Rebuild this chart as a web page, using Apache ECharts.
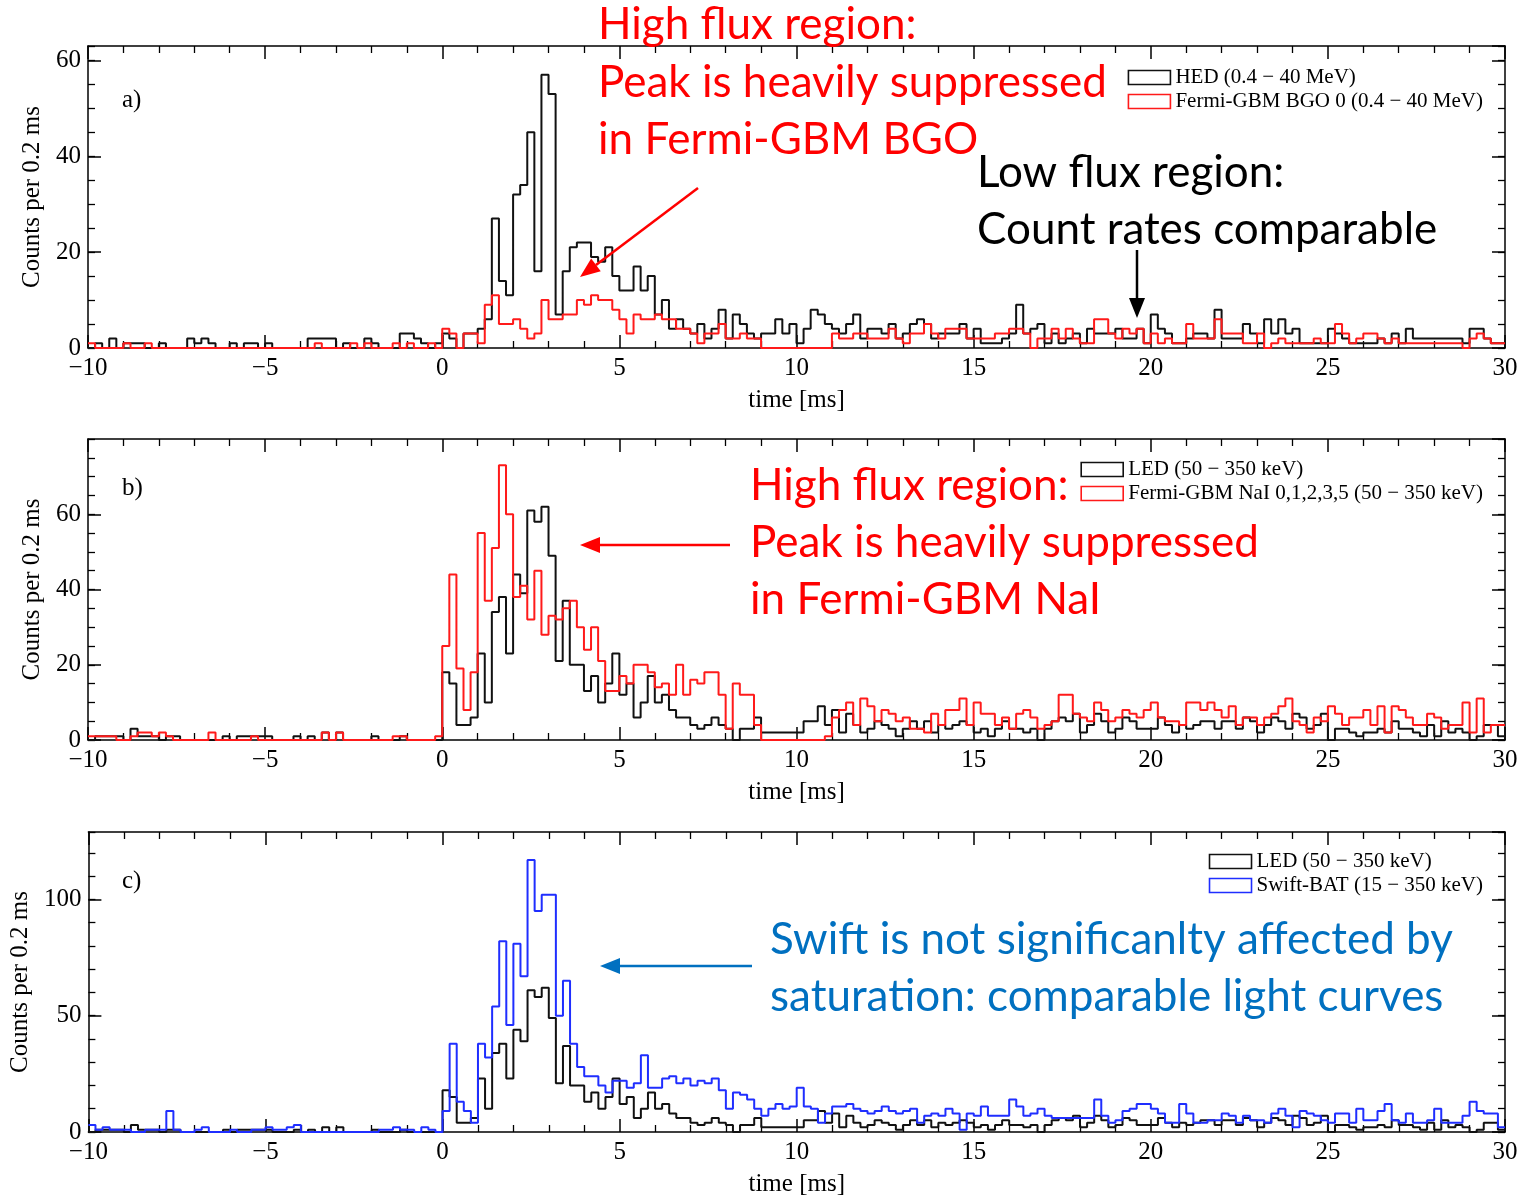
<!DOCTYPE html>
<html><head><meta charset="utf-8">
<script src="https://cdn.jsdelivr.net/npm/echarts@6/dist/echarts.min.js"></script>
<style>html,body{margin:0;padding:0;background:#fff}#c{width:1528px;height:1198px}</style>
</head><body><div id="c"></div>
<script>
// ---- data: counts per 0.2 ms bin, from -10 ms to 30 ms (200 bins) ----
const T0 = -10, BIN = 0.2;
const hedA = [0,1,0,2,0,1,1,1,0,0, 1,0,0,0,2,1,2,1,0,0, 1,0,1,1,0,1,0,0,0,0, 0,2,2,2,2,0,1,0,0,2, 1,0,0,0,3,3,2,1,0,1,
  3,2,0,3,3,4,6,27,14,11, 32,34,45,16,57,53,7,16,21,22, 22,19,18,21,15,12,12,17,12,15, 7,10,4,6,4,3,5,2,4,8,
  2,7,5,3,2,3,3,6,3,5, 1,4,8,7,5,4,3,5,7,2, 4,4,3,5,2,3,5,6,5,2, 3,3,3,5,2,4,1,1,1,2, 3,9,3,4,5,1,3,1,2,3, 1,4,3,3,3,
  4,2,2,4,1, 7,4,3,1,1, 2,3,3,2,8, 2,2,2,5,3, 1,6,3,6,3, 4,1,1,1,1, 4,3,2,1,1, 1,1,2,1,3, 1,4,2,2,2, 2,2,2,2,1, 4,4,2,1,1];
const bgoA = [1,0,0,0,0,1,0,0,1,0, 0,0,0,0,0,0,0,0,0,0, 0,0,0,0,0,0,0,0,0,0, 0,0,1,0,0,0,0,1,0,1, 0,0,0,1,0,1,0,0,1,0,
  4,3,0,3,3,1,9,11,5,5, 6,4,2,3,10,6,6,7,7,10, 9,11,10,10,8,6,3,7,6,6, 7,6,6,4,4,3,1,3,3,5,
  2,2,3,2,2, 0,0,0,0,0, 0,0,0,0,0,
  3,2,2,3,3, 2,2,2,4,2, 1,3,3,5,3, 2,4,4,4,2, 2,2,2,3,3, 4,4,3,0,2, 2,4,2,4,2, 1,1,6,6,3,
  2,4,3,4,1, 3,1,2,1,1, 5,2,2,2,6, 3,3,3,1,1, 3,0,1,2,1, 1,1,1,2,1, 1,5,3,1,2, 3,3,2,1,2, 1,1,1,1,1, 1,1,1,1,0, 2,3,2,1,1];
const led = [0,1,1,1,1,0,3,1,1,1, 0,1,1,0,0,0,0,0,0,1, 0,1,1,1,1,1,0,0,0,1, 0,1,0,2,0,2,0,0,0,0, 1,0,0,0,1,0,0,0,0,0,
  18,15,4,4,6,23,10,34,38,23, 44,39,61,58,62,49,21,37,20,20, 13,17,10,15,23,12,15,6,10,17, 10,12,8,6,6,4,3,4,6,4, 3,0,3,3,6,
  2,2,2,2,2, 2,5,5,9,4, 8,2,7,4,2, 3,5,4,3,1, 3,5,3,5,2, 4,3,4,5,4, 2,3,1,3,5, 3,3,2,3,0, 3,5,6,5,7, 2,4,7,5,2, 3,
  6,5,3,3,3, 6,4,2,4,3, 4,5,5,3,5, 5,3,6,5,2, 4,6,5,3,7, 6,3,4,7,0, 3,3,2,1,2, 2,3,2,5,3, 3,2,1,4,1, 5,2,3,2,0, 1,4,4,1];
const naiB = [1,1,1,1,0,0,1,2,2,1, 2,1,0,0,0,0,0,2,0,0, 0,0,0,1,0,0,0,0,0,0, 0,0,0,2,0,2,0,0,0,0, 0,0,0,1,1,0,0,0,0,1,
  25,44,19,8,18,55,37,51,73,60, 38,41,32,45,28,33,32,35,37,30, 24,30,21,13,13,17,15,20,20,18, 14,15,12,20,12,16,15,18,18,12, 3,15,12,12,4,
  0,0,0,0,0, 0,0,0,0,1, 6,8,10,4,11, 9,5,8,7,5, 6,3,3,2,7, 4,8,8,11,4, 10,7,7,4,6, 3,7,8,6,3, 4,5,12,12,7, 6,5,10,8,5, 6,
  8,7,6,8,10, 6,5,5,4,10, 10,8,10,8,6, 9,4,6,6,4, 6,7,9,11,5, 4,2,6,5,9, 7,4,6,6,8, 4,9,2,9,8, 6,4,4,7,6, 3,4,4,10,2, 11,2,4,4];
const batC = [3,1,2,1,1,1,0,0,1,1, 1,9,1,0,0,1,2,0,0,0, 1,0,0,1,1,2,1,1,2,3, 0,0,0,0,0,0,0,0,0,0, 0,1,1,2,1,1,0,2,1,0,
  9,38,13,9,4,38,32,54,82,46, 81,67,117,95,102,102,50,65,38,28, 24,24,20,17,22,22,19,21,33,19, 19,23,24,21,23,20,22,21,23,18, 10,17,16,14,10,
  7,10,12,10,11, 19,11,10,4,8, 11,11,12,10,9, 8,9,11,9,8, 9,10,4,7,8, 7,10,8,1,8, 7,11,7,7,7, 14,11,7,8,10, 7,6,6,6,6, 6,6,14,7,4, 5,
  9,10,12,12,10, 8,4,4,12,8, 4,4,5,5,8, 7,4,7,5,5, 4,8,10,7,2, 9,8,7,5,4, 8,8,4,10,5, 5,9,12,5,4, 8,4,4,5,10, 4,4,4,7,13, 9,8,8,2];

const xTicks = {min: -10, max: 30, interval: 5};
const yMax = [63, 80, 129];
const yMajor = [20, 20, 50];
const yMinor = [5, 5, 10];
const names = {
  hed: 'HED (0.4 \u2212 40 MeV)',
  bgo: 'Fermi-GBM BGO 0 (0.4 \u2212 40 MeV)',
  led: 'LED (50 \u2212 350 keV)',
  nai: 'Fermi-GBM NaI 0,1,2,3,5 (50 \u2212 350 keV)',
  bat: 'Swift-BAT (15 \u2212 350 keV)'
};

function hist(vals){
  const d = [];
  for (let i = 0; i < vals.length; i++) d.push([Math.round((T0 + i*BIN)*10)/10, vals[i]]);
  d.push([Math.round((T0 + vals.length*BIN)*10)/10, vals[vals.length-1]]);
  return d;
}

const SERIF = "'Liberation Serif','DejaVu Serif',serif";
const SANS = "Lato, 'Open Sans', sans-serif";
const BLACK = '#111';
const tops = [46, 439, 832], heights = [302, 301, 300];

const grids = [], xAxes = [], yAxes = [];
const axLine = {show: true, onZero: false, lineStyle: {color: '#000', width: 1.5}};
const noLine = {show: false, onZero: false};
for (let g = 0; g < 3; g++) {
  grids.push({left: 88, right: 23, top: tops[g], height: heights[g], containLabel: false});
  const xb = {gridIndex: g, type: 'value', min: xTicks.min, max: xTicks.max, interval: xTicks.interval,
    axisLine: axLine, axisTick: {inside: true, length: 13, lineStyle: {color: '#000', width: 1.5}},
    minorTick: {show: true, splitNumber: 5, length: 7, lineStyle: {color: '#000', width: 1.3}},
    splitLine: {show: false}};
  xAxes.push(Object.assign({}, xb, {position: 'bottom',
    axisLabel: {fontFamily: SERIF, fontSize: 25, color: '#000', margin: 8, formatter: v => String(v).replace('-', '\u2212')},
    name: 'time [ms]', nameLocation: 'middle', nameGap: 40, nameTextStyle: {fontFamily: SERIF, fontSize: 25, color: '#000'}}));
  xAxes.push(Object.assign({}, xb, {position: 'top', axisLabel: {show: false}}));
  const yb = {gridIndex: g, type: 'value', min: 0, max: yMax[g], splitLine: {show: false}};
  yAxes.push(Object.assign({}, yb, {position: 'left', interval: yMajor[g], axisLine: axLine,
    axisTick: {inside: true, length: 13, lineStyle: {color: '#000', width: 1.5}},
    axisLabel: {fontFamily: SERIF, fontSize: 25, color: '#000', margin: 7, showMaxLabel: false},
    name: 'Counts per 0.2 ms', nameLocation: 'middle', nameGap: 42,
    nameTextStyle: {fontFamily: SERIF, fontSize: 25, color: '#000'}}));
  yAxes.push(Object.assign({}, yb, {position: 'left', interval: yMinor[g], axisLine: noLine,
    axisTick: {inside: true, length: 7, lineStyle: {color: '#000', width: 1.3}}, axisLabel: {show: false}}));
  yAxes.push(Object.assign({}, yb, {position: 'right', interval: yMajor[g], axisLine: axLine,
    axisTick: {inside: true, length: 13, lineStyle: {color: '#000', width: 1.5}}, axisLabel: {show: false}}));
  yAxes.push(Object.assign({}, yb, {position: 'right', interval: yMinor[g], axisLine: noLine,
    axisTick: {inside: true, length: 7, lineStyle: {color: '#000', width: 1.3}}, axisLabel: {show: false}}));
}

function ser(name, vals, g, color, z){
  return {name: name, type: 'line', step: 'end', xAxisIndex: 2*g, yAxisIndex: 4*g, data: hist(vals),
    symbol: 'none', showSymbol: false, z: z, lineStyle: {color: color, width: 2}, itemStyle: {color: color}};
}
const RED = '#ff1a1a', BLUE = '#1f2eff';
const series = [
  ser(names.hed, hedA, 0, BLACK, 3), ser(names.bgo, bgoA, 0, RED, 4),
  ser(names.led, led, 1, BLACK, 3), ser(names.nai, naiB, 1, RED, 4),
  ser(names.led, led, 2, BLACK, 3), ser(names.bat, batC, 2, BLUE, 4)
];

function legendItem(name, color){
  return {name: name, icon: 'rect', itemStyle: {color: 'rgba(255,255,255,0)', borderColor: color, borderWidth: 1.6}};
}
const legTxt = {fontFamily: SERIF, fontSize: 21, color: '#000'};
const legBase = {orient: 'vertical', itemWidth: 42, itemHeight: 14, itemGap: 3, selectedMode: false, textStyle: legTxt, right: 40};
const legends = [
  Object.assign({}, legBase, {top: 62, data: [legendItem(names.hed, BLACK), legendItem(names.bgo, RED)]}),
  Object.assign({}, legBase, {top: 454, data: [legendItem(names.led, BLACK), legendItem(names.nai, RED)]}),
  Object.assign({}, legBase, {top: 846, data: [legendItem(names.led, BLACK), legendItem(names.bat, BLUE)]})
];

// ---- annotations ----
function txt(s, x, y, color, size, fam){
  return {type: 'text', x: x, y: y, z: 100, style: {text: s, fill: color, font: size + 'px ' + (fam || SANS), textVerticalAlign: 'middle', textAlign: 'left'}};
}
function arrow(x1, y1, x2, y2, color){
  const dx = x2 - x1, dy = y2 - y1, len = Math.sqrt(dx*dx + dy*dy);
  const ux = dx/len, uy = dy/len, L = 20, W = 8;
  const bx = x2 - ux*L, by = y2 - uy*L;
  return [
    {type: 'line', z: 100, shape: {x1: x1, y1: y1, x2: bx, y2: by}, style: {stroke: color, lineWidth: 2.5}},
    {type: 'polygon', z: 100, shape: {points: [[x2, y2], [bx - uy*W, by + ux*W], [bx + uy*W, by - ux*W]]}, style: {fill: color}}
  ];
}
const ANN_RED = '#ff0000', ANN_BLUE = '#0070c0';
const AS = 44;
const graphic = [
  txt('a)', 122, 100, '#000', 25, SERIF), txt('b)', 122, 488, '#000', 25, SERIF), txt('c)', 122, 881, '#000', 25, SERIF),
  txt('High flux region:', 598, 25, ANN_RED, AS), txt('Peak is heavily suppressed', 598, 83, ANN_RED, AS),
  txt('in Fermi-GBM BGO', 598, 140, ANN_RED, AS),
  txt('Low flux region:', 977, 173, '#000', AS), txt('Count rates comparable', 977, 230, '#000', AS),
  txt('High flux region:', 750, 486, ANN_RED, AS), txt('Peak is heavily suppressed', 750, 543, ANN_RED, AS),
  txt('in Fermi-GBM NaI', 750, 600, ANN_RED, AS),
  txt('Swift is not significanlty affected by', 770, 940, ANN_BLUE, AS),
  txt('saturation: comparable light curves', 770, 997, ANN_BLUE, AS)
].concat(arrow(698, 188, 580, 277, ANN_RED), arrow(1137, 250, 1137, 318, '#000'),
  arrow(730, 545, 580, 545, ANN_RED), arrow(752, 966, 600, 966, ANN_BLUE));

const chart = echarts.init(document.getElementById('c'), null, {renderer: 'canvas'});
chart.setOption({
  animation: false, backgroundColor: '#fff',
  grid: grids, xAxis: xAxes, yAxis: yAxes, series: series, legend: legends, graphic: graphic
});
</script></body></html>
